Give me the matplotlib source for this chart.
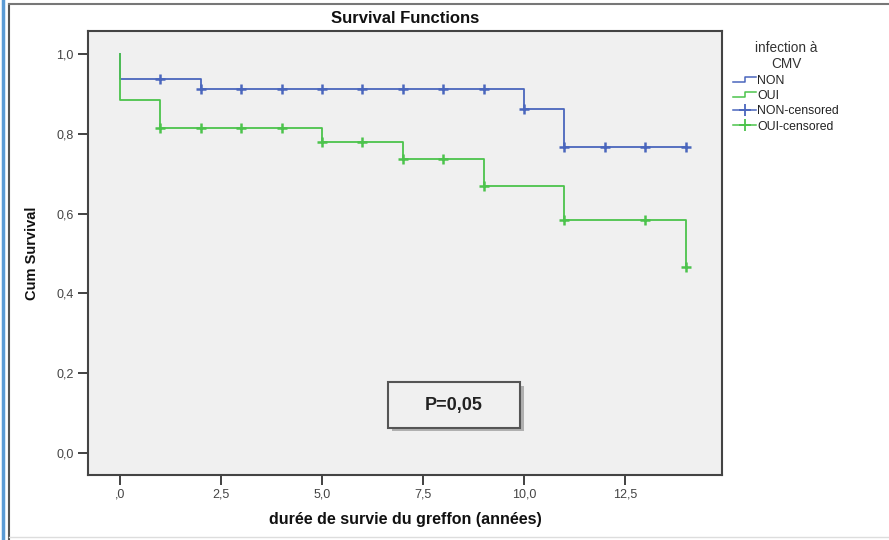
import numpy as np
import matplotlib
matplotlib.use("Agg")
import matplotlib.pyplot as plt
from matplotlib.lines import Line2D
from matplotlib.legend_handler import HandlerBase
from matplotlib.patches import Rectangle

plt.rcParams['font.family'] = ['Liberation Sans', 'DejaVu Sans']

# ---- data ----
non_times = [0, 0, 2, 10, 11, 14]
non_surv = [1.0, 0.937, 0.912, 0.862, 0.767, 0.767]
non_cens = [1, 2, 3, 4, 5, 6, 7, 8, 9, 10, 11, 12, 13, 14]

oui_times = [0, 0, 1, 5, 7, 9, 11, 14]
oui_surv = [1.0, 0.885, 0.815, 0.779, 0.737, 0.669, 0.585, 0.467]
oui_cens = [1, 2, 3, 4, 5, 6, 7, 8, 9, 11, 13, 14]

xticks = [0, 2.5, 5, 7.5, 10, 12.5]
xtick_labels = [',0', '2,5', '5,0', '7,5', '10,0', '12,5']
yticks = [0, 0.2, 0.4, 0.6, 0.8, 1.0]
ytick_labels = ['0,0', '0,2', '0,4', '0,6', '0,8', '1,0']

blue = '#4a66bd'
green = '#4cc34c'


def step_value(times, surv, t):
    v = surv[0]
    for ti, si in zip(times, surv):
        if ti <= t:
            v = si
    return v


fig = plt.figure(figsize=(8.89, 5.40), dpi=100)
ax = fig.add_axes([88/889, 1-475/540, (722-88)/889, (475-31)/540])
ax.set_facecolor('#f0f0f0')

ax.step(non_times, non_surv, where='post', color=blue, lw=1.3)
ax.step(oui_times, oui_surv, where='post', color=green, lw=1.3)
ax.plot(non_cens, [step_value(non_times, non_surv, t) for t in non_cens],
        ls='none', marker='+', ms=7, mew=1.8, color=blue)
ax.plot(oui_cens, [step_value(oui_times, oui_surv, t) for t in oui_cens],
        ls='none', marker='+', ms=7, mew=1.8, color=green)

ax.set_xlim(-0.79, 14.9)
ax.set_ylim(-0.055, 1.058)
ax.set_xticks(xticks)
ax.set_xticklabels(xtick_labels)
ax.set_yticks(yticks)
ax.set_yticklabels(ytick_labels)
ax.tick_params(axis='both', length=7, width=1.3, color='#333333',
               labelsize=9, labelcolor='#444444')
ax.tick_params(axis='x', pad=3)
for s in ax.spines.values():
    s.set_color('#444444')
    s.set_linewidth(1.5)

ax.set_title('Survival Functions', fontsize=12, fontweight='bold', pad=6, color='#111111')
ax.set_xlabel('durée de survie du greffon (années)', fontsize=11.5, fontweight='bold',
              labelpad=8, color='#111111')
ax.set_ylabel('Cum Survival', fontsize=10.5, fontweight='bold', labelpad=12,
              color='#111111')

# P-value box with shadow
ax.add_patch(Rectangle((0.480, 0.098), 0.208, 0.103, transform=ax.transAxes,
                       facecolor='#b0b0b0', edgecolor='none', zorder=4))
ax.add_patch(Rectangle((0.473, 0.106), 0.208, 0.103, transform=ax.transAxes,
                       facecolor='#f0f0f0', edgecolor='#555555', lw=1.5, zorder=5))
ax.text(0.577, 0.157, 'P=0,05', transform=ax.transAxes, ha='center', va='center',
        fontsize=13, fontweight='bold', color='#222222', zorder=6)


class StepHandler(HandlerBase):
    def create_artists(self, legend, orig_handle, xdescent, ydescent, width, height,
                       fontsize, trans):
        x0 = -xdescent
        y0 = -ydescent
        xs = [x0, x0 + width * 0.5, x0 + width * 0.5, x0 + width]
        ys = [y0 + height * 0.2, y0 + height * 0.2, y0 + height * 0.8, y0 + height * 0.8]
        l = Line2D(xs, ys, color=orig_handle.get_color(), lw=1.1, transform=trans)
        return [l]


h_non = Line2D([], [], color=blue)
h_oui = Line2D([], [], color=green)
h_nonc = Line2D([], [], color=blue, marker='+', ms=8, mew=1.3, lw=1.1)
h_ouic = Line2D([], [], color=green, marker='+', ms=8, mew=1.3, lw=1.1)
leg = fig.legend([h_non, h_oui, h_nonc, h_ouic],
                 ['NON', 'OUI', 'NON-censored', 'OUI-censored'],
                 handler_map={h_non: StepHandler(), h_oui: StepHandler()},
                 title='infection à\nCMV', loc='upper left',
                 bbox_to_anchor=(728/889, 1-36/540), frameon=False,
                 fontsize=8.8, title_fontsize=9.8, handlelength=1.9,
                 handletextpad=0.1, labelspacing=0.28, borderaxespad=0)
leg.get_title().set_color('#333333')
leg.get_title().set_multialignment('center')
leg._legend_box.align = 'center'
for t in leg.get_texts():
    t.set_color('#222222')

# outer frame lines
fig.add_artist(Line2D([3/889, 3/889], [0, 1], color='#5b9bd5', lw=2.5,
                      transform=fig.transFigure))
fig.add_artist(Line2D([9/889, 9/889], [0, 1-4/540], color='#555555', lw=1.5,
                      transform=fig.transFigure))
fig.add_artist(Line2D([9/889, 1], [1-4/540, 1-4/540], color='#777777', lw=1.5,
                      transform=fig.transFigure))
fig.add_artist(Line2D([9/889, 1], [3/540, 3/540], color='#dddddd', lw=1.0,
                      transform=fig.transFigure))

fig.savefig('out.png', dpi=100)
